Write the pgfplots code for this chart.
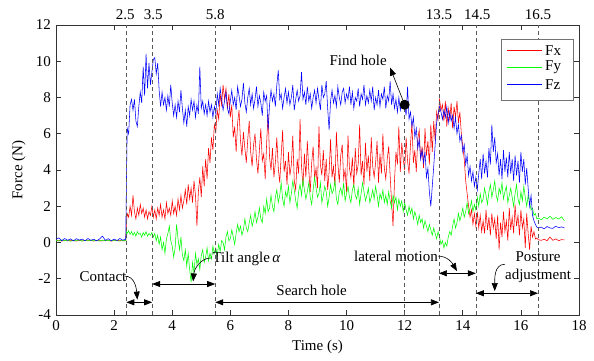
\documentclass[border=0pt]{standalone}
\usepackage{fontspec}
\setmainfont{Liberation Serif}
\usepackage{pgfplots}
\pgfplotsset{compat=1.18}
\usepackage{pgfplotstable}
\usetikzlibrary{arrows.meta}

\pgfplotstableread{
t fx fy fz
0.0 0.10 0.12 0.18
0.1 0.12 0.08 0.25
0.2 0.08 0.14 0.10
0.3 0.11 0.10 0.22
0.4 0.09 0.13 0.12
0.5 0.12 0.07 0.20
0.6 0.10 0.12 0.09
0.7 0.08 0.10 0.21
0.8 0.12 0.14 0.13
0.9 0.09 0.08 0.19
1.0 0.11 0.12 0.10
1.1 0.10 0.09 0.22
1.2 0.12 0.13 0.12
1.3 0.08 0.10 0.18
1.4 0.11 0.12 0.09
1.5 0.10 0.08 0.20
1.6 0.09 0.13 0.35
1.7 0.12 0.10 0.12
1.8 0.10 0.12 0.21
1.9 0.08 0.09 0.10
2.0 0.11 0.13 0.19
2.1 0.10 0.10 0.11
2.2 0.12 0.08 0.22
2.3 0.09 0.12 0.13
2.4 0.10 0.10 0.18
2.43 1.2 0.6 4.0
2.45 1.6 0.5 6.3
2.50 1.4 0.65 6.0
2.55 2.0 0.45 7.6
2.60 1.5 0.6 7.9
2.65 2.6 0.4 7.3
2.70 1.7 0.55 7.9
2.75 1.3 0.35 6.7
2.80 1.9 0.6 6.4
2.85 1.5 0.45 7.5
2.90 2.1 0.5 8.3
2.95 1.6 0.3 7.7
3.00 1.9 0.55 9.7
3.05 1.4 0.4 8.1
3.10 1.8 0.6 10.4
3.15 1.3 0.35 8.5
3.20 1.7 0.5 9.9
3.25 1.5 0.4 8.7
3.30 2.0 0.55 9.4
3.35 1.4 0.3 10.1
3.40 1.8 0.5 10.2
3.45 1.3 0.1 9.3
3.50 1.9 0.4 9.9
3.55 1.5 -0.1 8.4
3.60 2.1 0.3 7.5
3.65 1.4 -0.4 8.3
3.70 1.8 0.0 7.6
3.75 1.3 -0.6 8.0
3.80 2.2 0.2 7.3
3.85 1.6 0.5 8.1
3.90 1.9 0.9 7.5
3.95 1.5 0.1 8.7
4.00 2.3 -0.2 7.7
4.05 1.6 -0.8 7.0
4.10 2.0 -0.3 7.6
4.15 1.5 1.0 6.9
4.20 2.4 0.2 7.8
4.25 1.8 -0.4 7.2
4.30 2.6 0.3 8.4
4.35 1.9 -0.7 7.4
4.40 2.3 -1.0 6.6
4.45 2.9 -0.4 7.3
4.50 2.1 -1.3 6.4
4.55 3.2 -0.6 7.5
4.60 2.4 -1.5 7.0
4.65 3.0 -2.2 7.9
4.70 2.2 -1.1 7.3
4.75 3.4 -1.7 7.8
4.80 2.6 -0.6 6.9
4.85 0.9 -1.2 7.6
4.90 2.8 -0.9 7.1
4.95 3.6 -1.5 9.7
5.00 2.5 -0.7 7.4
5.05 4.2 -0.4 7.8
5.10 3.1 -1.1 7.1
5.15 4.6 -0.8 7.6
5.20 3.5 -0.3 7.0
5.25 5.2 -1.0 7.8
5.30 4.4 -0.6 7.2
5.35 5.8 -0.9 7.6
5.40 5.1 -0.2 6.9
5.45 6.5 -0.6 7.5
5.50 6.1 -0.3 7.1
5.55 7.3 -0.7 8.2
5.60 6.8 -0.1 7.6
5.65 8.2 -0.5 8.5
5.70 7.6 0.1 7.9
5.75 8.7 0.0 7.3
5.80 7.9 -0.4 7.8
5.85 8.5 0.3 8.3
5.90 7.4 0.6 7.4
5.95 8.2 0.1 7.1
6.00 6.9 0.2 7.8
6.05 7.6 0.7 8.4
6.10 5.8 0.3 7.6
6.15 6.4 -0.1 8.0
6.20 5.0 0.5 7.3
6.25 6.6 1.0 8.6
6.30 7.3 0.6 8.1
6.35 5.6 0.9 7.5
6.40 4.8 0.4 7.9
6.45 6.1 0.7 8.8
6.50 5.2 1.3 7.7
6.55 4.4 0.8 7.2
6.60 5.7 0.6 8.0
6.65 6.7 1.1 8.5
6.70 5.0 1.5 7.6
6.75 4.2 0.9 8.2
6.80 5.4 1.2 7.4
6.85 6.0 1.7 7.9
6.90 4.6 1.1 8.6
6.95 3.8 1.4 7.5
7.00 5.1 1.9 8.1
7.05 6.3 1.3 7.7
7.10 4.5 1.1 7.0
7.15 4.9 2.0 8.3
7.20 3.5 1.6 7.8
7.25 5.5 2.4 8.1
7.30 7.1 1.7 6.2
7.35 4.7 1.9 7.6
7.40 4.0 2.6 8.4
7.45 5.2 2.0 7.8
7.50 3.6 1.7 8.2
7.55 4.4 2.5 7.5
7.60 5.8 2.9 8.7
7.65 4.1 2.2 9.5
7.70 3.3 2.6 7.9
7.75 4.8 3.3 8.2
7.80 6.2 2.4 7.4
7.85 3.9 2.0 8.0
7.90 4.5 2.8 8.5
7.95 3.2 2.5 7.7
8.00 5.0 3.1 8.3
8.05 3.7 2.2 7.6
8.10 4.3 2.7 8.0
8.15 5.9 3.4 8.7
8.20 3.4 2.9 7.3
8.25 2.9 2.3 7.9
8.30 4.6 1.9 8.4
8.35 3.8 2.8 7.8
8.40 6.8 3.2 8.1
8.45 4.2 2.6 9.4
8.50 3.1 3.5 7.9
8.55 4.9 2.9 8.3
8.60 3.6 2.4 7.6
8.65 5.6 2.8 8.6
8.70 4.0 3.3 7.8
8.75 2.8 2.5 8.2
8.80 4.4 2.1 7.4
8.85 5.3 2.9 8.0
8.90 3.5 3.6 8.4
8.95 4.1 3.0 7.7
9.00 3.0 2.5 8.5
9.05 6.4 2.7 7.9
9.10 4.3 3.3 7.3
9.15 3.7 2.2 8.7
9.20 5.1 2.6 8.0
9.25 3.4 3.1 8.2
9.30 4.6 2.8 8.9
9.35 2.9 2.0 7.4
9.40 3.9 2.5 6.2
9.45 5.7 3.2 7.8
9.50 3.6 2.7 8.4
9.55 4.2 2.9 7.7
9.60 3.1 3.4 8.1
9.65 6.1 2.4 7.5
9.70 4.4 2.1 8.6
9.75 3.3 2.8 8.0
9.80 4.8 3.0 7.6
9.85 5.4 2.6 8.3
9.90 3.5 3.3 8.5
9.95 4.0 2.3 7.7
10.00 2.8 2.7 8.2
10.05 5.9 3.1 7.9
10.10 4.1 2.5 8.6
10.15 3.6 2.2 7.6
10.20 4.7 2.9 8.3
10.25 3.0 3.2 7.4
10.30 5.2 2.6 8.0
10.35 3.8 2.4 7.8
10.40 4.3 3.0 8.5
10.45 6.5 2.1 7.5
10.50 3.7 2.7 8.2
10.55 4.5 3.3 7.9
10.60 3.2 2.8 8.7
10.65 5.5 2.3 7.6
10.70 3.9 2.6 8.1
10.75 4.8 3.0 7.7
10.80 3.4 2.2 8.4
10.85 5.8 2.5 7.8
10.90 4.2 2.9 8.6
10.95 3.6 2.4 7.3
11.00 4.4 3.1 8.0
11.05 5.6 2.6 7.6
11.10 3.3 2.0 8.4
11.15 4.9 2.7 7.5
11.20 3.8 2.4 8.2
11.25 6.0 2.9 7.9
11.30 4.1 2.2 8.6
11.35 3.5 2.6 7.4
11.40 4.6 2.1 8.1
11.45 5.3 2.8 7.8
11.50 3.7 2.3 8.9
11.55 2.2 1.9 7.6
11.60 0.9 2.6 8.2
11.65 3.4 2.2 7.4
11.70 5.0 2.5 7.9
11.75 4.3 1.8 7.2
11.80 6.4 2.4 8.0
11.85 3.9 2.0 7.3
11.90 5.5 2.3 7.7
11.95 4.6 1.7 7.5
12.00 4.0 2.2 7.6
12.05 5.8 1.8 7.0
12.10 4.5 1.5 8.6
12.15 3.8 2.0 6.8
12.20 5.4 1.6 7.2
12.25 6.6 1.9 6.4
12.30 4.4 1.3 6.9
12.35 5.1 1.7 5.8
12.40 3.9 1.4 6.3
12.45 5.7 1.0 5.2
12.50 6.2 1.5 5.7
12.55 4.6 1.1 4.6
12.60 5.3 1.3 5.1
12.65 4.1 0.8 4.4
12.70 6.3 1.2 5.0
12.75 4.8 0.9 3.6
12.80 5.6 0.6 4.1
12.85 4.3 1.0 2.8
12.90 6.5 0.7 2.0
12.95 5.0 0.4 3.1
13.00 6.7 0.8 4.2
13.05 5.6 0.5 5.4
13.10 7.2 0.2 6.6
13.15 6.8 0.6 7.1
13.20 7.9 0.3 7.5
13.25 7.3 -0.1 7.2
13.30 7.6 0.1 6.8
13.35 6.7 -0.3 7.3
13.40 7.8 0.0 6.9
13.45 6.4 -0.2 7.5
13.50 7.4 0.3 6.6
13.55 6.8 0.6 7.2
13.60 7.7 0.4 6.7
13.65 6.3 0.9 7.0
13.70 7.5 1.3 6.3
13.75 6.9 0.8 6.9
13.80 7.8 1.1 6.0
13.85 6.6 1.6 6.5
13.90 7.2 1.2 5.6
13.95 6.0 1.5 5.9
14.00 5.3 1.9 5.0
14.05 4.6 1.4 5.4
14.10 3.4 1.7 4.3
14.15 2.7 2.2 4.8
14.20 2.0 1.6 3.7
14.25 1.4 1.9 4.2
14.30 1.8 2.3 3.4
14.35 1.0 1.7 3.9
14.40 1.6 2.1 3.1
14.45 0.9 1.8 3.6
14.50 1.7 2.5 2.9
14.55 0.8 2.0 3.8
14.60 1.5 2.7 4.6
14.65 0.6 2.2 3.5
14.70 1.2 2.4 4.9
14.75 0.5 3.0 3.8
14.80 1.8 2.6 4.5
14.85 0.7 2.1 3.6
14.90 1.4 2.8 5.2
14.95 0.4 3.2 4.3
15.00 1.6 2.5 6.5
15.05 0.8 2.9 5.0
15.10 1.3 3.4 5.8
15.15 0.2 2.6 4.4
15.20 1.5 2.3 4.9
15.25 -0.4 3.0 3.7
15.30 1.1 2.7 4.6
15.35 0.3 3.3 3.5
15.40 1.7 2.4 5.1
15.45 0.6 2.8 3.9
15.50 1.2 3.1 4.7
15.55 0.1 2.2 3.6
15.60 1.9 2.6 5.0
15.65 0.7 3.0 3.8
15.70 1.4 2.5 4.6
15.75 0.5 2.0 3.4
15.80 2.1 2.7 4.8
15.85 0.9 3.2 3.7
15.90 1.5 2.4 4.5
15.95 0.4 2.1 3.3
16.00 1.8 2.8 5.0
16.05 0.8 2.3 3.9
16.10 1.3 3.1 4.6
16.15 -0.3 2.5 3.2
16.20 1.6 2.0 4.1
16.25 0.5 2.6 3.0
16.30 -0.4 2.2 2.0
16.35 0.9 1.8 2.6
16.40 0.3 1.9 1.5
16.45 0.6 1.5 1.2
16.50 0.2 1.6 1.0
16.55 0.25 1.3 0.85
16.60 0.15 1.35 0.80
16.7 0.12 1.25 0.85
16.8 0.18 1.40 0.75
16.9 0.10 1.30 0.88
17.0 0.30 1.45 0.80
17.1 0.12 1.28 0.78
17.2 0.20 1.38 0.90
17.3 0.10 1.30 0.82
17.4 0.16 1.42 0.86
17.5 0.14 1.20 0.80
}\forcedata

\definecolor{lgred}{rgb}{1,0,0}
\definecolor{lggreen}{rgb}{0,1,0}
\definecolor{lgblue}{rgb}{0,0,1}

\begin{document}
\fontsize{15}{18}\selectfont
\begin{tikzpicture}[
  dl/.style={dash pattern=on 4pt off 3pt, line width=0.6pt, black!65},
  da/.style={{Triangle[length=8pt,width=6pt]}-{Triangle[length=8pt,width=6pt]}, line width=0.7pt, black},
  ca/.style={-{Triangle[length=8pt,width=6pt]}, line width=0.6pt, black}
]
\begin{axis}[
  scale only axis,
  width=523pt, height=290pt,
  xmin=0, xmax=18, ymin=-4, ymax=12,
  xtick={0,2,...,18}, ytick={-4,-2,...,12},
  /pgf/number format/assume math mode=true,
  axis line style={black!80, line width=0.6pt},
  tick style={black!80, line width=0.6pt},
  major tick length=5pt,
  tick align=inside,
  xlabel={Time (s)}, ylabel={Force (N)},
  clip=false,
]
\addplot[red, line width=0.55pt] table[x=t, y=fx]{\forcedata};
\addplot[green, line width=0.55pt] table[x=t, y=fy]{\forcedata};
\addplot[blue, line width=0.55pt] table[x=t, y=fz]{\forcedata};

% dashed event lines
\draw[dl] (axis cs:2.42,-4) -- (axis cs:2.42,12);
\draw[dl] (axis cs:3.31,-4) -- (axis cs:3.31,12);
\draw[dl] (axis cs:5.48,-4) -- (axis cs:5.48,12);
\draw[dl] (axis cs:12.0,-4) -- (axis cs:12.0,7.6);
\draw[dl] (axis cs:13.18,-4) -- (axis cs:13.18,12);
\draw[dl] (axis cs:14.45,-4) -- (axis cs:14.45,12);
\draw[dl] (axis cs:16.59,-4) -- (axis cs:16.59,12);

% top labels
\node[anchor=south, inner sep=0pt, yshift=5pt] at (axis cs:2.38,12) {2.5};
\node[anchor=south, inner sep=0pt, yshift=5pt] at (axis cs:3.35,12) {3.5};
\node[anchor=south, inner sep=0pt, yshift=5pt] at (axis cs:5.48,12) {5.8};
\node[anchor=south, inner sep=0pt, yshift=5pt] at (axis cs:13.18,12) {13.5};
\node[anchor=south, inner sep=0pt, yshift=5pt] at (axis cs:14.5,12) {14.5};
\node[anchor=south, inner sep=0pt, yshift=5pt] at (axis cs:16.59,12) {16.5};

% find hole
\fill[black] (axis cs:12.0,7.6) circle (5pt);
\draw[ca] (axis cs:12.0,7.6) -- (axis cs:11.5,9.65);
\node at (axis cs:10.4,10.07) {Find hole};

% double arrows
\draw[da] (axis cs:2.42,-3.3) -- (axis cs:3.31,-3.3);
\draw[da] (axis cs:3.31,-2.29) -- (axis cs:5.48,-2.29);
\draw[da] (axis cs:5.48,-3.3) -- (axis cs:13.18,-3.3);
\draw[da] (axis cs:13.18,-1.7) -- (axis cs:14.45,-1.7);
\draw[da] (axis cs:14.45,-2.8) -- (axis cs:16.59,-2.8);

% labels and curved arrows
\node at (axis cs:1.62,-1.87) {Contact};
\draw[ca] (axis cs:2.36,-1.85) to[out=0, in=95] (axis cs:2.8,-3.15);
\node at (axis cs:6.56,-0.93) {Tilt angle\,\textit{α}};
\draw[ca] (axis cs:5.35,-0.85) to[out=180, in=85] (axis cs:4.72,-2.15);
\node at (axis cs:8.8,-2.64) {Search hole};
\node at (axis cs:11.7,-0.78) {lateral motion};
\draw[ca] (axis cs:13.15,-0.75) to[out=0, in=120] (axis cs:13.8,-1.58);
\node at (axis cs:16.59,-0.78) {Posture};
\node at (axis cs:16.59,-1.82) {adjustment};
\draw[ca] (axis cs:15.45,-1.2) to[out=180, in=90] (axis cs:15.1,-2.68);
\end{axis}
% legend (drawn directly, outside the axis)
\begin{scope}[shift={(current axis.south west)}]
\filldraw[draw=black!55, fill=white, line width=0.5pt] (445pt,215pt) rectangle (517pt,276pt);
\node[anchor=west, inner sep=0pt] at (451pt,264.3pt) {\textcolor{lgred}{\rule[-0.5pt]{35pt}{1pt}}};
\node[anchor=west, inner sep=0pt] at (451pt,247.7pt) {\textcolor{lggreen}{\rule[-0.5pt]{35pt}{1pt}}};
\node[anchor=west, inner sep=0pt] at (451pt,230.7pt) {\textcolor{lgblue}{\rule[-0.5pt]{35pt}{1pt}}};
\node[anchor=west, inner sep=0pt, text=black] at (489pt,264.3pt) {Fx};
\node[anchor=west, inner sep=0pt, text=black] at (489pt,247.7pt) {Fy};
\node[anchor=west, inner sep=0pt, text=black] at (489pt,230.7pt) {Fz};
\end{scope}
\pgfresetboundingbox
\path[use as bounding box] ([xshift=-56pt,yshift=-45pt]current axis.south west) rectangle ([xshift=15pt,yshift=25pt]current axis.north east);
\end{tikzpicture}
\end{document}
